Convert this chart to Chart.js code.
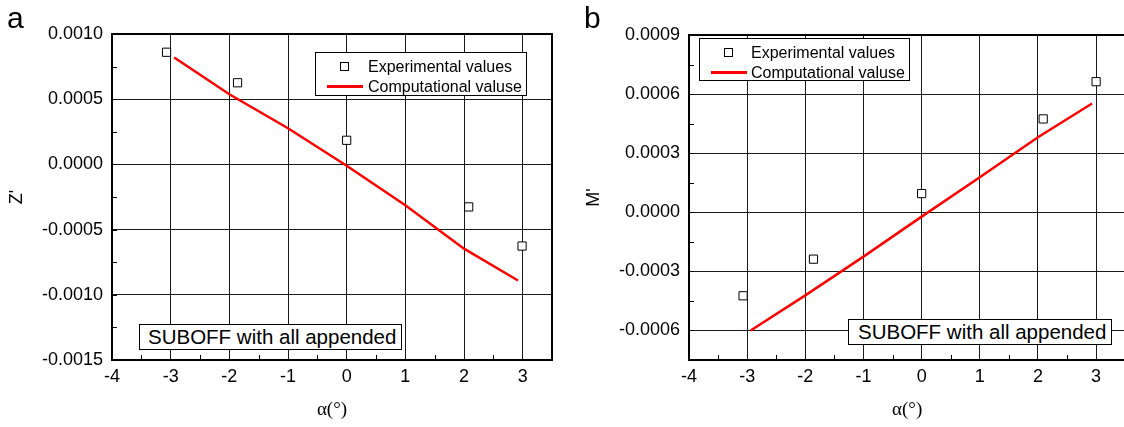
<!DOCTYPE html>
<html>
<head>
<meta charset="utf-8">
<script src="https://cdn.jsdelivr.net/npm/chart.js@4/dist/chart.umd.min.js"></script>
<style>
body{margin:0;width:1124px;height:427px;overflow:hidden;background:#fff;position:relative;font-family:"Liberation Sans",Arial,sans-serif;color:#000}
canvas{position:absolute;top:0}
.tag{position:absolute;font-size:30px;line-height:1}
.legend{position:absolute;box-sizing:border-box;border:1px solid #000;background:#fff;font-size:16px}
.legend .row{position:absolute;white-space:nowrap;line-height:20px}
.sq{position:absolute;box-sizing:border-box;width:9px;height:9px;border:1px solid #000;background:#fff}
.ln{position:absolute;height:3px;background:#ff0000}
.note{position:absolute;box-sizing:border-box;border:1px solid #000;background:#fff;font-size:20.5px;line-height:24px;white-space:nowrap}
</style>
</head>
<body>
<canvas id="chartA" width="560" height="427" style="left:0"></canvas>
<canvas id="chartB" width="572" height="427" style="left:560px"></canvas>

<div class="tag" style="left:7px;top:3px">a</div>
<div class="tag" style="left:584px;top:3px">b</div>

<div class="legend" style="left:315px;top:52px;width:212px;height:44px">
  <div class="sq" style="left:24px;top:9px"></div>
  <div class="row" style="left:52px;top:4px">Experimental values</div>
  <div class="ln" style="left:11px;top:32px;width:36px"></div>
  <div class="row" style="left:52px;top:24px">Computational valuse</div>
</div>
<div class="legend" style="left:699px;top:38px;width:211px;height:43px">
  <div class="sq" style="left:24px;top:9px"></div>
  <div class="row" style="left:51px;top:4px">Experimental values</div>
  <div class="ln" style="left:11px;top:32px;width:36px"></div>
  <div class="row" style="left:51px;top:24px">Computational valuse</div>
</div>

<div class="note" style="left:139px;top:324px;width:263px;height:26px;padding-left:8px">SUBOFF with all appended</div>
<div class="note" style="left:848px;top:319px;width:264px;height:26px;padding-left:9px">SUBOFF with all appended</div>

<script>
// panel a: Z' vs alpha
var expAlphaA = [-3.07, -1.86, 0.0, 2.08, 2.99];
var expZ = [0.00086, 0.000626, 0.000185, -0.000326, -0.000626];
var compAlphaA = [-2.94, -2, -1, 0, 1, 2, 2.92];
var compZ = [0.00082, 0.000538, 0.000277, -0.00001, -0.000313, -0.000646, -0.00089];

// panel b: M' vs alpha
var expAlphaB = [-3.07, -1.86, 0.0, 2.09, 3.0];
var expM = [-0.000424, -0.000238, 0.000095, 0.000474, 0.000663];
var compAlphaB = [-2.94, -2, -1, 0, 1, 2, 2.93];
var compM = [-0.0006, -0.000422, -0.000225, -0.000022, 0.000178, 0.000381, 0.000552];

var yTicksA = {min: -0.0015, max: 0.0010, step: 0.0005};
var yTicksB = {min: -0.00075, max: 0.0009, step: 0.0003};

function pts(xs, ys){
  var out = [];
  for (var i = 0; i < xs.length; i++) out.push({x: xs[i], y: ys[i]});
  return out;
}

// frame round the plot and the small inward ticks between the grid lines
var frameMinor = {
  id: 'frameMinor',
  afterDatasetsDraw: function(chart){
    var ctx = chart.ctx, a = chart.chartArea,
      sx = chart.scales.x, sy = chart.scales.y,
      half = chart.options.plugins.frameMinor.yHalf, v;
    ctx.save();
    ctx.strokeStyle = '#000';
    ctx.lineWidth = 1;
    ctx.beginPath();
    for (v = sx.min + 0.5; v < sx.max; v += 1) {
      var px = Math.round(sx.getPixelForValue(v)) + 0.5;
      ctx.moveTo(px, a.bottom);
      ctx.lineTo(px, a.bottom - 5);
    }
    for (v = sy.min; v < sy.max + 1e-9; v += half) {
      var py = Math.round(sy.getPixelForValue(v)) + 0.5;
      ctx.moveTo(a.left, py);
      ctx.lineTo(a.left + 5, py);
    }
    ctx.stroke();
    ctx.lineWidth = 2;
    ctx.strokeRect(a.left, a.top, a.right - a.left, a.bottom - a.top);
    ctx.restore();
  }
};

function makePanel(id, expData, compData, yt, yTitle, pad, yWidth, titlePad){
  return new Chart(document.getElementById(id), {
    type: 'scatter',
    data: {
      datasets: [{
        data: compData,
        showLine: true,
        borderColor: '#ff0000',
        borderWidth: 2.5,
        pointRadius: 0,
        tension: 0
      }, {
        data: expData,
        pointStyle: 'rect',
        pointRadius: 5.8,
        borderColor: '#000',
        borderWidth: 1,
        backgroundColor: '#fff'
      }]
    },
    options: {
      responsive: false,
      animation: false,
      layout: {padding: pad},
      plugins: {
        legend: {display: false},
        tooltip: {enabled: false},
        frameMinor: {yHalf: yt.step / 2}
      },
      scales: {
        x: {
          type: 'linear',
          min: -4, max: 3.5,
          afterFit: function(s){ s.height = 67; },
          border: {display: false},
          grid: {color: '#1a1a1a', lineWidth: 1, drawTicks: false},
          ticks: {stepSize: 1, includeBounds: false, padding: 6, color: '#000',
            font: {family: '"Liberation Sans", Arial', size: 18}},
          title: {display: true, text: 'α(°)', color: '#000', padding: {top: 4, bottom: 6},
            font: {family: '"Liberation Serif", "Times New Roman"', size: 19}}
        },
        y: {
          type: 'linear',
          min: yt.min, max: yt.max,
          afterFit: function(s){ s.width = yWidth; },
          border: {display: false},
          grid: {color: '#1a1a1a', lineWidth: 1, drawTicks: false},
          ticks: {stepSize: yt.step, includeBounds: false, padding: 9, color: '#000',
            font: {family: '"Liberation Sans", Arial', size: 18},
            callback: function(v){ return v.toFixed(4); }},
          title: {display: true, text: yTitle, color: '#000', padding: {top: titlePad, bottom: 0},
            font: {family: '"Liberation Sans", Arial', size: 18}}
        }
      }
    },
    plugins: [frameMinor]
  });
}

makePanel('chartA', pts(expAlphaA, expZ), pts(compAlphaA, compZ), yTicksA, "Z'",
  {top: 34, right: 8, left: 0, bottom: 0}, 112, 6);
makePanel('chartB', pts(expAlphaB, expM), pts(compAlphaB, compM), yTicksB, "M'",
  {top: 35, right: 5, left: 0, bottom: 0}, 129, 23);
</script>
</body>
</html>
